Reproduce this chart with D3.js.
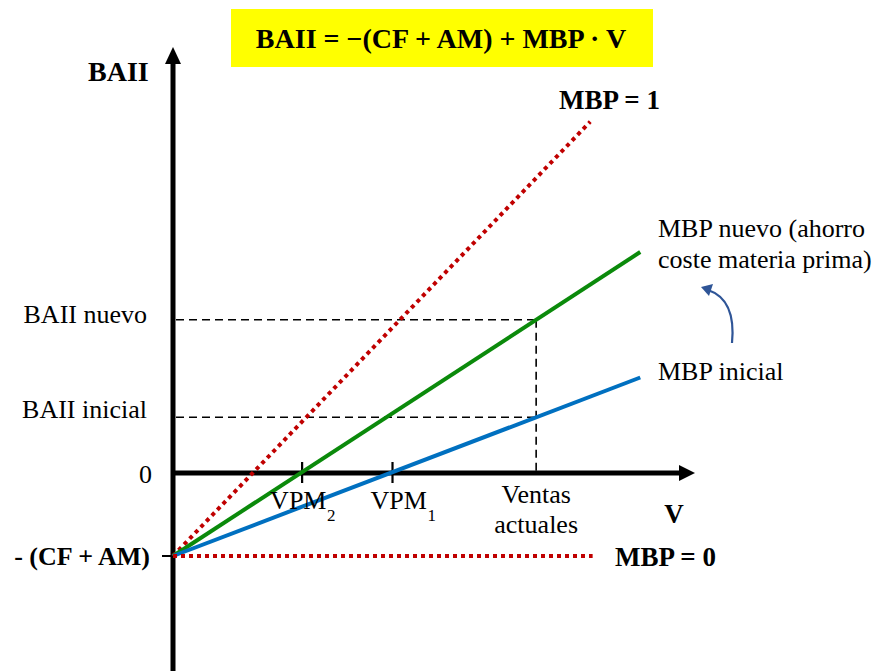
<!DOCTYPE html>
<html><head><meta charset="utf-8">
<script src="https://cdn.jsdelivr.net/npm/d3@7"></script>
<style>
html,body{margin:0;padding:0;background:#fff;}
svg{display:block;font-family:"Liberation Serif","Times New Roman",serif;}
</style></head>
<body>
<script>
// ---- data ----
const fixedCosts = 100;                    // CF + AM
const lineNames = ["MBP = 1", "MBP nuevo", "MBP inicial", "MBP = 0"];
const mbpValues = [1, 0.625, 0.367, 0];
const lineEndV  = [517, 579, 579, 520];
const vpmLabels = ["2", "1"];
const vpmValues = [160, 272];
const ventasActuales = 450;
const yLabels = ["BAII nuevo", "BAII inicial"];

const W = 878, H = 671;
const svg = d3.select("body").append("svg").attr("width", W).attr("height", H);

const x = d3.scaleLinear().domain([0, 600]).range([173, 173 + 600 * 0.807]);
const y = d3.scaleLinear().domain([-100, 0]).range([556, 472]);
const baii = (m, v) => -fixedCosts + m * v;

// title box
svg.append("rect").attr("x", 231).attr("y", 9).attr("width", 422).attr("height", 58).attr("fill", "#FFFF00");
svg.append("text").attr("x", 441).attr("y", 48).attr("text-anchor", "middle")
  .attr("font-size", 28).attr("font-weight", "bold").text("BAII = \u2212(CF + AM) + MBP \u00B7 V");

// dashed guide lines
const dash = svg.append("g").attr("stroke", "#000").attr("stroke-width", 1.6).attr("stroke-dasharray", "8,5").attr("fill", "none");
const yNuevo = baii(mbpValues[1], ventasActuales), yIni = baii(mbpValues[2], ventasActuales);
[yNuevo, yIni].forEach(v => {
  dash.append("line").attr("x1", x(0) + 3).attr("x2", x(ventasActuales)).attr("y1", y(v)).attr("y2", y(v));
});
dash.append("line").attr("x1", x(ventasActuales)).attr("x2", x(ventasActuales)).attr("y1", y(yNuevo)).attr("y2", y(0));

// axes
const ax = svg.append("g");
ax.append("line").attr("x1", x(0)).attr("x2", x(0)).attr("y1", H).attr("y2", 60).attr("stroke", "#000").attr("stroke-width", 5);
ax.append("path").attr("d", `M${x(0)},47 L${x(0) - 8},64 L${x(0) + 8},64 Z`).attr("fill", "#000");
ax.append("line").attr("x1", x(0) - 2).attr("x2", 682).attr("y1", y(0) + 1).attr("y2", y(0) + 1).attr("stroke", "#000").attr("stroke-width", 5);
ax.append("path").attr("d", `M695,${y(0) + 1} L679,${y(0) - 7} L679,${y(0) + 9} Z`).attr("fill", "#000");
// ticks
vpmValues.forEach(v => {
  ax.append("line").attr("x1", x(v)).attr("x2", x(v)).attr("y1", y(0) - 10).attr("y2", y(0) + 11).attr("stroke", "#000").attr("stroke-width", 2.2);
});
ax.append("line").attr("x1", x(0) - 11).attr("x2", x(0)).attr("y1", y(-fixedCosts)).attr("y2", y(-fixedCosts)).attr("stroke", "#000").attr("stroke-width", 2);

// lines
const colors = ["#C00000", "#0B8A0B", "#0070C0", "#C00000"];
const dotted = [true, false, false, true];
mbpValues.forEach((m, i) => {
  svg.append("line")
    .attr("x1", x(0)).attr("y1", y(baii(m, 0)))
    .attr("x2", x(lineEndV[i])).attr("y2", y(baii(m, lineEndV[i])))
    .attr("stroke", colors[i]).attr("stroke-width", 4)
    .attr("stroke-dasharray", dotted[i] ? "4,4" : null);
});

// curved arrow
svg.append("path").attr("d", "M732,343 C735,312 726,296 708,290").attr("fill", "none")
  .attr("stroke", "#2F5597").attr("stroke-width", 2.2);
svg.append("path").attr("d", "M701,287 L713,284 L709,296 Z").attr("fill", "#2F5597");

// text
const t = (tx, ty, s, size, bold, anchor) => svg.append("text").attr("x", tx).attr("y", ty)
  .attr("font-size", size).attr("font-weight", bold ? "bold" : "normal")
  .attr("text-anchor", anchor || "start").attr("fill", "#000").text(s);

t(88, 81, "BAII", 28, true);
t(559, 109, lineNames[0] , 27, true);
t(658, 237, "MBP nuevo (ahorro", 26);
t(658, 268, "coste materia prima)", 26);
t(658, 380, lineNames[2], 26);
t(147, 323, yLabels[0], 26, false, "end");
t(147, 418, yLabels[1], 26, false, "end");
t(152, 483, "0", 26, false, "end");
const vpmShift = [-32, -22];
vpmValues.forEach((v, i) => {
  t(x(v) + vpmShift[i], 509, "VPM", 26);
  t(x(v) + vpmShift[i] + 57, 521, vpmLabels[i], 17);
});
t(x(ventasActuales), 503, "Ventas", 26, false, "middle");
t(x(ventasActuales), 533, "actuales", 26, false, "middle");
t(674, 523, "V", 27, true, "middle");
t(615, 566, lineNames[3], 27, true);
t(150, 565, "- (CF + AM)", 26, true, "end");
</script>
</body></html>
